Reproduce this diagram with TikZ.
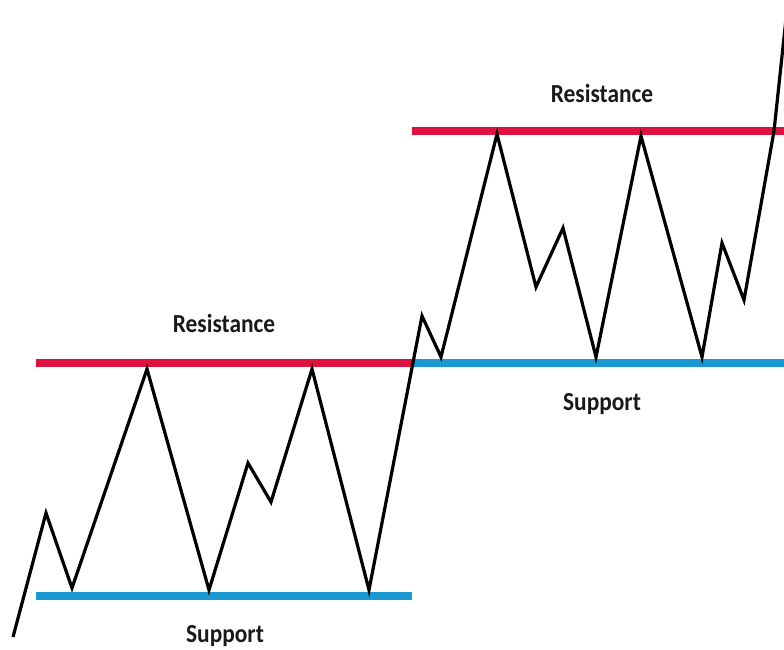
\documentclass[tikz,border=0pt]{standalone}
\usepackage{fontspec}
\setmainfont{Carlito}
\usepackage{tikz}
\definecolor{resred}{RGB}{222,18,62}
\definecolor{supblue}{RGB}{26,152,210}
\tikzset{
  price/.style={draw=black, line width=3.2pt, miter limit=10},
  resline/.style={draw=resred, line width=8pt},
  supline/.style={draw=supblue, line width=8pt},
  lbl/.style={anchor=base, inner sep=0pt, text=black!90,
    font=\fontsize{26}{26}\selectfont\bfseries},
}
\begin{document}
\begin{tikzpicture}[x=1pt, y=-1pt]
  \useasboundingbox (0,0) rectangle (784,649);
  % levels
  \coordinate (res1-l) at (36,363);  \coordinate (res1-r) at (412,363);
  \coordinate (sup1-l) at (36,596);  \coordinate (sup1-r) at (412,596);
  \coordinate (res2-l) at (412,131); \coordinate (res2-r) at (784,131);
  \coordinate (sup2-l) at (412,363); \coordinate (sup2-r) at (784,363);
  \draw[resline] (res1-l) -- (res1-r);
  \draw[supline] (sup1-l) -- (sup1-r);
  \draw[resline] (res2-l) -- (res2-r);
  \draw[supline] (sup2-l) -- (sup2-r);
  % price
  \foreach \px/\py [count=\i] in {13/637, 46/513, 72/588, 147/369, 209/590,
      248/463, 271/502, 312/369, 369/590, 422/316, 441/357, 497/134,
      536/287, 563/228, 596/357, 641/136, 702/357, 722/243, 744/300,
      774/131, 788/0}
    \coordinate (p\i) at (\px,\py);
  \draw[price] (p1) \foreach \i in {2,...,21} { -- (p\i) };
  % labels
  \node[lbl] (res1-txt) at (224,332) {\scalebox{0.9}[1]{Resistance}};
  \node[lbl] (sup1-txt) at (225,642) {\scalebox{0.9}[1]{Support}};
  \node[lbl] (res2-txt) at (602,102) {\scalebox{0.9}[1]{Resistance}};
  \node[lbl] (sup2-txt) at (602,410) {\scalebox{0.9}[1]{Support}};
\end{tikzpicture}
\end{document}
